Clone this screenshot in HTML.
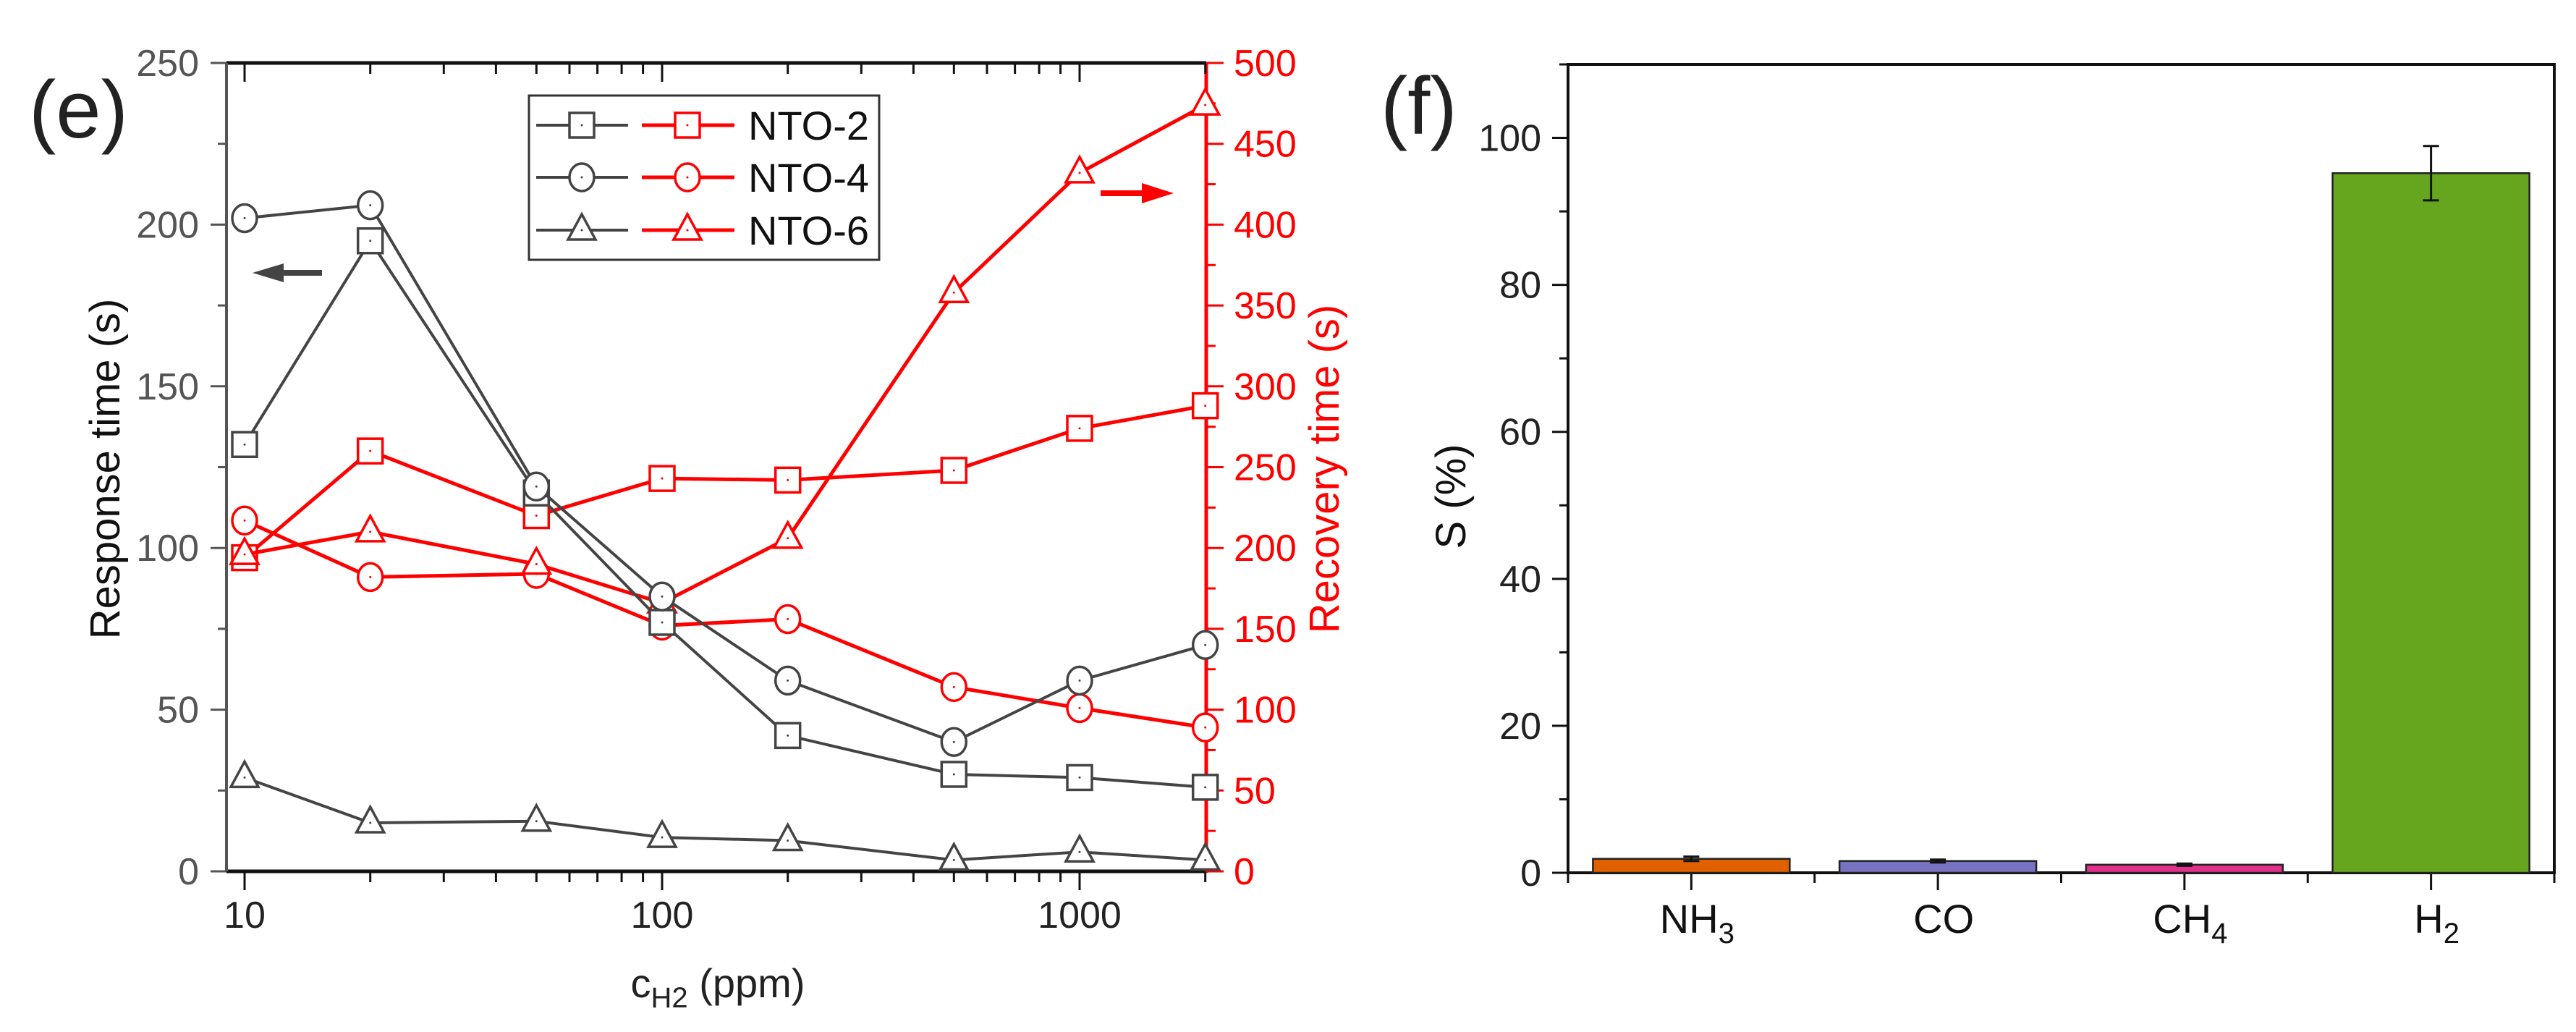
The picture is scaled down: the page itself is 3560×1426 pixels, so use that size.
<!DOCTYPE html>
<html><head><meta charset="utf-8"><style>
html,body{margin:0;padding:0;background:#fff;}
svg{display:block;font-family:"Liberation Sans",Arial,sans-serif;}
</style></head><body>
<svg id="fig" width="3560" height="1426" viewBox="0 0 3560 1426" xmlns="http://www.w3.org/2000/svg">
<rect width="3560" height="1426" fill="#fff"/>
<g id="left"></g>
<g id="right"></g>
</svg>
<script>
// ---- Chart (e) data ----
const concs = [10, 20, 50, 100, 200, 500, 1000, 2000];
const resp2 = [132, 195, 117, 77, 42, 30, 29, 26];
const resp4 = [202, 206, 119, 85, 59, 40, 59, 70];
const resp6 = [29, 15, 15.5, 10.5, 9.5, 3.5, 6, 3.5];
const rec2 = [194, 260, 220, 243, 242, 248, 274, 288];
const rec4 = [217, 182, 184, 152, 156, 114, 101, 89];
const rec6 = [196, 210, 190, 166, 206, 358, 432, 474];
const leftTicks = [0, 50, 100, 150, 200, 250];
const rightTicks = [0, 50, 100, 150, 200, 250, 300, 350, 400, 450, 500];
const xTicks = [10, 100, 1000];
const seriesNames = ["NTO-2", "NTO-4", "NTO-6"];
// ---- Chart (f) data ----
const gases = ["NH3", "CO", "CH4", "H2"];
const sens = [1.9, 1.6, 1.1, 95.2];
const sensErr = [0.3, 0.2, 0.15, 3.7];
const sTicks = [0, 20, 40, 60, 80, 100];

const NS = "http://www.w3.org/2000/svg";
function mk(parent, tag, attrs, text) {
  const e = document.createElementNS(NS, tag);
  for (const k in attrs) e.setAttribute(k, attrs[k]);
  if (text !== undefined) e.textContent = text;
  parent.appendChild(e);
  return e;
}
const L = document.getElementById("left");
const R = document.getElementById("right");

const X0 = 313, X1 = 1667, YT = 87, YB = 1204;
function xLog(v) { return 338 + 577 * (Math.log10(v) - 1); }
function yL(v) { return YB - v * (YB - YT) / 250; }
function yR(v) { return YB - v * (YB - YT) / 500; }

let e;
e = mk(L, "line", {x1: X0, y1: YT, x2: X1, y2: YT, stroke: "#111", "stroke-width": 5});
 
e = mk(L, "line", {x1: X0, y1: YB, x2: X1, y2: YB, stroke: "#111", "stroke-width": 5});
 
e = mk(L, "line", {x1: X0, y1: YT, x2: X0, y2: YB, stroke: "#555", "stroke-width": 4});
 
e = mk(L, "line", {x1: X1, y1: YT, x2: X1, y2: YB + 2, stroke: "#ff0000", "stroke-width": 5});
 

for (let d = 1; d <= 1000; d *= 10) {
  for (let m = 1; m <= 9; m++) {
    const v = d * m;
    if (v < 9.1 || v > 2050) continue;
    const x = xLog(v);
    const major = (m === 1);
    const len = major ? 26 : 15;
    mk(L, "line", {x1: x, y1: YB, x2: x, y2: YB + len, stroke: "#111", "stroke-width": 3});
    mk(L, "line", {x1: x, y1: YT, x2: x, y2: YT + len, stroke: "#111", "stroke-width": 3});
  }
}
xTicks.forEach(v => {
  e = mk(L, "text", {x: xLog(v), y: 1282, "font-size": 52, "text-anchor": "middle", fill: "#222"}, String(v));
   
});
for (let v = 0; v <= 250; v += 25) {
  const major = v % 50 === 0;
  mk(L, "line", {x1: X0 - (major ? 22 : 12), y1: yL(v), x2: X0, y2: yL(v), stroke: "#555", "stroke-width": 3});
}
leftTicks.forEach(v => {
  e = mk(L, "text", {x: 275, y: yL(v) + 18, "font-size": 52, "text-anchor": "end", fill: "#555"}, String(v));
   
});
for (let v = 0; v <= 500; v += 25) {
  const major = v % 50 === 0;
  mk(L, "line", {x1: X1, y1: yR(v), x2: X1 + (major ? 24 : 13), y2: yR(v), stroke: "#ff0000", "stroke-width": 3});
}
rightTicks.forEach(v => {
  e = mk(L, "text", {x: 1705, y: yR(v) + 18, "font-size": 52, "text-anchor": "start", fill: "#ff0000"}, String(v));
   
});

e = mk(L, "text", {x: 40, y: 190, "font-size": 112, fill: "#222"}, "(e)");
 
e = mk(L, "text", {x: 0, y: 0, "font-size": 58, "text-anchor": "middle", fill: "#111", transform: "translate(165,648) rotate(-90)"}, "Response time (s)");
 
e = mk(L, "text", {x: 0, y: 0, "font-size": 58, "text-anchor": "middle", fill: "#ff0000", transform: "translate(1850,648) rotate(-90)"}, "Recovery time (s)");
 
e = mk(L, "text", {x: 992, y: 1378, "font-size": 56, "text-anchor": "middle", fill: "#222"});
 
mk(e, "tspan", {}, "c");
mk(e, "tspan", {dy: 14, "font-size": 40}, "H2");
mk(e, "tspan", {dy: -14}, " (ppm)");

e = mk(L, "g", {});
 
mk(e, "line", {x1: 385, y1: 377, x2: 445, y2: 377, stroke: "#444", "stroke-width": 8});
mk(e, "polygon", {points: "349,377 392,364 392,390", fill: "#444"});
e = mk(L, "g", {});
 
mk(e, "line", {x1: 1521, y1: 267, x2: 1585, y2: 267, stroke: "#ff0000", "stroke-width": 8});
mk(e, "polygon", {points: "1622,267 1578,253 1578,281", fill: "#ff0000"});

function marker(g, shape, x, y, color) {
  let m;
  if (shape === "sq") m = mk(g, "rect", {x: x - 17, y: y - 17, width: 34, height: 34, fill: "#fff", stroke: color, "stroke-width": 3.5});
  else if (shape === "ci") m = mk(g, "ellipse", {cx: x, cy: y, rx: 17, ry: 19, fill: "#fff", stroke: color, "stroke-width": 3.5});
  else m = mk(g, "polygon", {points: `${x},${y - 22} ${x - 19},${y + 13} ${x + 19},${y + 13}`, fill: "#fff", stroke: color, "stroke-width": 3.5});
  mk(g, "circle", {cx: x, cy: y, r: 1.5, fill: color});
  return m;
}
function series(vals, yf, shape, color, name) {
  const g = mk(L, "g", {});
   
  const pts = vals.map((v, i) => `${xLog(concs[i])},${yf(v)}`).join(" ");
  mk(g, "polyline", {points: pts, fill: "none", stroke: color, "stroke-width": color === "#ff0000" ? 5 : 4});
  vals.forEach((v, i) => {
    const m = marker(g, shape, xLog(concs[i]), yf(v), color);
     
  });
}
const BK = "#444", RD = "#ff0000";
series(rec2, yR, "sq", RD, "recovery-nto-2");
series(rec4, yR, "ci", RD, "recovery-nto-4");
series(rec6, yR, "tr", RD, "recovery-nto-6");
series(resp2, yL, "sq", BK, "response-nto-2");
series(resp4, yL, "ci", BK, "response-nto-4");
series(resp6, yL, "tr", BK, "response-nto-6");

const lg = mk(L, "g", {});
 
mk(lg, "rect", {x: 731, y: 132, width: 484, height: 227, fill: "#fff", stroke: "#333", "stroke-width": 3});
const shapes = ["sq", "ci", "tr"];
const rowY = [173, 245, 318];
seriesNames.forEach((n, i) => {
  const row = mk(lg, "g", {});
   
  mk(row, "line", {x1: 741, y1: rowY[i], x2: 868, y2: rowY[i], stroke: BK, "stroke-width": 4});
  marker(row, shapes[i], 804, rowY[i], BK);
  mk(row, "line", {x1: 887, y1: rowY[i], x2: 1015, y2: rowY[i], stroke: RD, "stroke-width": 5});
  marker(row, shapes[i], 950, rowY[i], RD);
  mk(row, "text", {x: 1034, y: rowY[i] + 20, "font-size": 56, fill: "#111"}, n);
});

// ---- Chart (f) ----
const FX0 = 2167, FX1 = 3530, FYT = 89, FYB = 1206;
const slot = (FX1 - FX0) / gases.length;
function xC(i) { return FX0 + slot * (i + 0.5); }
function yS(v) { return FYB - v * (FYB - FYT) / 110; }
const barColors = ["#e06000", "#7873c0", "#e2308c", "#66a61e"];
e = mk(R, "rect", {x: FX0, y: FYT, width: FX1 - FX0, height: FYB - FYT, fill: "none", stroke: "#111", "stroke-width": 4});
 
for (let v = 0; v <= 110; v += 10) {
  const major = v % 20 === 0;
  mk(R, "line", {x1: FX0 - (major ? 22 : 12), y1: yS(v), x2: FX0, y2: yS(v), stroke: "#111", "stroke-width": 3});
}
sTicks.forEach(v => {
  e = mk(R, "text", {x: 2130, y: yS(v) + 18, "font-size": 52, "text-anchor": "end", fill: "#222"}, String(v));
   
});
for (let i = 0; i <= gases.length; i++) {
  const x = FX0 + slot * i;
  mk(R, "line", {x1: x, y1: FYB, x2: x, y2: FYB + 14, stroke: "#111", "stroke-width": 3});
}
const subs = {NH3: ["NH", "3"], CO: ["CO", ""], CH4: ["CH", "4"], H2: ["H", "2"]};
gases.forEach((gname, i) => {
  const x = xC(i);
  mk(R, "line", {x1: x, y1: FYB, x2: x, y2: FYB + 24, stroke: "#111", "stroke-width": 3});
  const b = mk(R, "rect", {x: x - 136, y: yS(sens[i]), width: 272, height: FYB - yS(sens[i]), fill: barColors[i], stroke: "#222", "stroke-width": 2.5});
   
  const eb = mk(R, "g", {stroke: "#111", "stroke-width": 3});
   
  mk(eb, "line", {x1: x, y1: yS(sens[i] + sensErr[i]), x2: x, y2: yS(sens[i] - sensErr[i])});
  mk(eb, "line", {x1: x - 11, y1: yS(sens[i] + sensErr[i]), x2: x + 11, y2: yS(sens[i] + sensErr[i])});
  mk(eb, "line", {x1: x - 11, y1: yS(sens[i] - sensErr[i]), x2: x + 11, y2: yS(sens[i] - sensErr[i])});
  const t = mk(R, "text", {x: x + 8, y: 1289, "font-size": 56, "text-anchor": "middle", fill: "#111"});
   
  mk(t, "tspan", {}, subs[gname][0]);
  if (subs[gname][1]) mk(t, "tspan", {dy: 14, "font-size": 40}, subs[gname][1]);
});
e = mk(R, "text", {x: 1908, y: 185, "font-size": 112, fill: "#222"}, "(f)");
 
e = mk(R, "text", {x: 0, y: 0, "font-size": 58, "text-anchor": "middle", fill: "#111", transform: "translate(2025,686) rotate(-90)"}, "S (%)");
 
</script>
</body></html>
